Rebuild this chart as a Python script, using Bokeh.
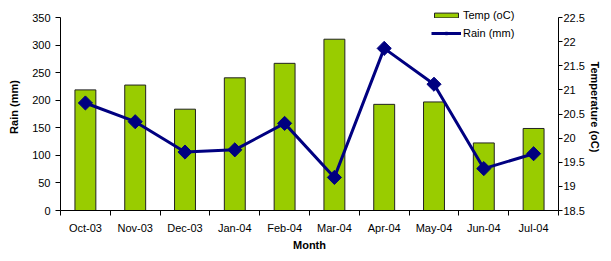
from bokeh.plotting import figure
from bokeh.models import Range1d, LinearAxis, FixedTicker, Legend, LegendItem, NumeralTickFormatter
from bokeh.embed import file_html
from bokeh.resources import INLINE
import math

months = ["Oct-03", "Nov-03", "Dec-03", "Jan-04", "Feb-04", "Mar-04", "Apr-04", "May-04", "Jun-04", "Jul-04"]
temp = [21.0, 21.1, 20.6, 21.25, 21.55, 22.05, 20.7, 20.75, 19.9, 20.2]
rain = [195, 161, 106, 110, 158, 60, 294, 229, 76, 103]
rain_ticks = [0, 50, 100, 150, 200, 250, 300, 350]
temp_ticks = [18.5, 19, 19.5, 20, 20.5, 21, 21.5, 22, 22.5]

xs = list(range(len(months)))
FONT = "Liberation Sans"

# layout (pixels)
W, H = 603, 253
B_LEFT, B_RIGHT, B_TOP, B_BOTTOM = 60, 42, 3, 43
AXIS_TOP_PX = 17  # where the top tick of both value axes sits
frame_h = H - B_TOP - B_BOTTOM
axis_h = H - B_BOTTOM - AXIS_TOP_PX
extra_px = frame_h - axis_h

r0, r1 = rain_ticks[0], rain_ticks[-1]
t0, t1 = temp_ticks[0], temp_ticks[-1]
rain_top = r1 + extra_px * (r1 - r0) / axis_h
temp_top = t1 + extra_px * (t1 - t0) / axis_h

p = figure(width=W, height=H, output_backend="svg", toolbar_location=None,
           x_range=Range1d(-0.5, len(months) - 0.5), y_range=Range1d(r0, rain_top),
           min_border_left=B_LEFT, min_border_right=B_RIGHT, min_border_top=B_TOP,
           min_border_bottom=B_BOTTOM)
p.extra_y_ranges = {"temp": Range1d(t0, temp_top)}
p.outline_line_color = None
p.grid.visible = False
p.background_fill_color = "white"

bars = p.vbar(x=xs, top=temp, bottom=t0, width=0.42, y_range_name="temp",
              fill_color="#99CC00", line_color="#222222", line_width=1)
line = p.line(xs, rain, line_color="#000080", line_width=3)
marks = p.scatter(xs, rain, marker="square", size=10, angle=math.pi / 4,
                  fill_color="#000080", line_color="#000080")

# x axis
xa = p.xaxis[0]
xa.ticker = FixedTicker(ticks=xs, minor_ticks=[i - 0.5 for i in range(len(months) + 1)])
xa.major_label_overrides = {i: m for i, m in enumerate(months)}
xa.major_tick_out = 0
xa.major_tick_in = 0
xa.minor_tick_out = 5
xa.minor_tick_in = 0
xa.minor_tick_line_color = "black"
xa.axis_label = "Month"
xa.major_label_standoff = 6
xa.axis_label_standoff = 2

# left axis
ya = p.yaxis[0]
ya.ticker = FixedTicker(ticks=rain_ticks)
ya.bounds = (r0, r1)
ya.axis_label = "Rain (mm)"
ya.major_tick_out = 5
ya.major_tick_in = 0
ya.major_label_standoff = 5
ya.axis_label_standoff = 9

# right axis
ra = LinearAxis(y_range_name="temp", ticker=FixedTicker(ticks=temp_ticks), bounds=(t0, t1),
                formatter=NumeralTickFormatter(format="0.[0]"), axis_label="Temperature (oC)")
ra.major_tick_out = 4
ra.major_tick_in = 0
ra.major_label_standoff = 1
ra.axis_label_standoff = 1
p.add_layout(ra, "right")

for ax in [xa, ya, ra]:
    ax.axis_line_color = "black"
    ax.major_tick_line_color = "black"
    ax.major_label_text_font = FONT
    ax.major_label_text_font_size = "11px"
    ax.major_label_text_color = "black"
    ax.axis_label_text_font = FONT
    ax.axis_label_text_font_size = "11px"
    ax.axis_label_text_font_style = "bold"
    ax.axis_label_text_color = "black"
ya.minor_tick_line_color = None
ra.minor_tick_line_color = None

legend = Legend(items=[LegendItem(label="Temp (oC)", renderers=[bars]),
                       LegendItem(label="Rain (mm)", renderers=[line, marks])],
                location=(371, 170), border_line_color=None, background_fill_alpha=0,
                padding=0, margin=0, spacing=3, glyph_width=30, glyph_height=6,
                label_height=15, label_standoff=2, label_text_font=FONT,
                label_text_font_size="11px", label_text_color="black")
p.add_layout(legend, "center")

open("out.html", "w").write(file_html(p, INLINE))
